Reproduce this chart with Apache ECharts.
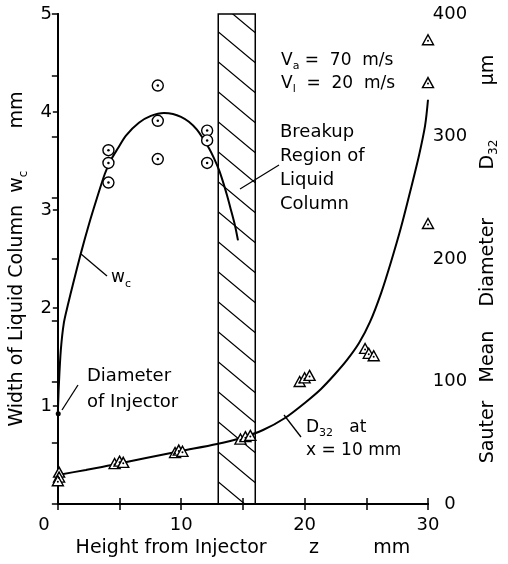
<!DOCTYPE html>
<html>
<head>
<meta charset="utf-8">
<script src="https://cdn.jsdelivr.net/npm/echarts/dist/echarts.min.js"></script>
<style>
  html, body { margin: 0; padding: 0; background: #fff; }
  #main { width: 508px; height: 564px; }
</style>
</head>
<body>
<div id="main"></div>
<script>
// width of liquid column w_c (mm) vs height z (mm)
const wcPoints = [
  [4.1, 3.61], [4.1, 3.48], [4.1, 3.28],
  [8.1, 4.27], [8.1, 3.91], [8.1, 3.52],
  [12.1, 3.81], [12.1, 3.71], [12.1, 3.48]
]
const wcCurve = [
  [0, 0.93], [0.08, 1.21], [0.24, 1.57], [0.49, 1.85], [0.81, 2.03], [1.22, 2.24],
  [1.87, 2.56], [2.51, 2.85], [3.24, 3.15], [3.81, 3.37], [4.3, 3.51], [4.87, 3.63],
  [5.52, 3.76], [6.57, 3.89], [7.54, 3.96], [8.6, 3.99], [9.33, 3.98], [9.98, 3.95],
  [10.62, 3.9], [11.27, 3.82], [11.76, 3.73], [12.25, 3.63], [12.65, 3.53],
  [13.06, 3.41], [13.38, 3.29], [13.71, 3.15], [14.03, 3.0], [14.36, 2.84], [14.6, 2.69]
]
const injectorPoint = [[0.03, 0.92]]
// Sauter mean diameter D32 (um) at x = 10 mm
const d32Points = [
  [0.1, 26], [0.1, 22], [0.0, 19],
  [4.6, 33], [5.0, 35], [5.3, 34],
  [9.5, 42], [9.8, 44], [10.1, 43],
  [14.8, 53], [15.2, 55], [15.6, 56],
  [19.6, 100], [20.0, 103], [20.4, 105],
  [24.9, 127], [25.2, 123], [25.6, 121],
  [30, 379], [30, 344], [30, 229]
]
const d32Curve = [
  [0, 23.7], [2.27, 27.8], [4.38, 31.8], [7.14, 37.6], [9.98, 43.3], [12.9, 49.0],
  [14.84, 53.9], [16.63, 60.4], [18.41, 70.2], [20.11, 83.3], [21.33, 93.9],
  [22.47, 106.1], [23.44, 117.6], [24.41, 131.4], [25.3, 148.6], [26.2, 172.2],
  [27.0, 197.6], [27.82, 226.1], [28.63, 258.0], [29.28, 284.9], [29.76, 308.6], [30, 330]
]
const breakupRegion = [13, 16]
const xTicks = [0, 10, 20, 30]

const FONT = 'DejaVu Sans'

function hatchPattern() {
  const w = 36
  const h = 30
  const c = document.createElement('canvas')
  c.width = w
  c.height = h
  const g = c.getContext('2d')
  g.strokeStyle = '#000'
  g.lineWidth = 1.3
  g.beginPath()
  for (let k = -1; k <= 1; k++) {
    g.moveTo(k * w - 2, -2 * h / w)
    g.lineTo(k * w + w + 2, h + 2 * h / w)
  }
  g.stroke()
  return c
}

const chart = echarts.init(document.getElementById('main'))
const nameT = { fontFamily: FONT, fontSize: 19, color: '#000', lineHeight: 24 }
const nameS = { fontFamily: FONT, fontSize: 12, color: '#000', verticalAlign: 'bottom', lineHeight: 24 }
const txt = { fontFamily: FONT, fontSize: 17, color: '#000', lineHeight: 23 }
const sub = { fontFamily: FONT, fontSize: 11, color: '#000', verticalAlign: 'bottom', lineHeight: 23 }

const option = {
  backgroundColor: '#fff',
  animation: false,
  grid: { left: 57, right: 80, top: 14, bottom: 60 },
  xAxis: [{
    type: 'value',
    min: 0,
    max: 30,
    interval: 5,
    name: 'Height from Injector       z         mm',
    nameLocation: 'middle',
    nameGap: 34,
    nameTextStyle: { fontFamily: FONT, fontSize: 19, color: '#000' },
    axisLine: { lineStyle: { color: '#000', width: 2 } },
    axisTick: { inside: true, length: 6, lineStyle: { color: '#000', width: 1.5 } },
    axisLabel: {
      margin: 12,
      fontFamily: FONT,
      fontSize: 18,
      color: '#000',
      formatter: v => (v === 0 ? '{o|0}' : (xTicks.indexOf(v) >= 0 ? String(v) : '')),
      rich: { o: { fontFamily: FONT, fontSize: 18, color: '#000', padding: [0, 28, 0, 0] } }
    },
    splitLine: { show: false }
  }, {
    type: 'value',
    position: 'top',
    min: 0,
    max: 30,
    interval: 5,
    axisLine: { lineStyle: { color: '#000', width: 2 } },
    axisTick: { inside: true, length: 6, lineStyle: { color: '#000', width: 1.5 } },
    axisLabel: { show: false },
    splitLine: { show: false }
  }],
  yAxis: [{
    type: 'value',
    min: 0,
    max: 5,
    interval: 1,
    name: '{t|Width of Liquid Column  w}{s|c}{t|       mm}',
    nameLocation: 'middle',
    nameRotate: 90,
    nameGap: 21,
    nameTextStyle: { rich: { t: nameT, s: nameS } },
    axisLine: { lineStyle: { color: '#000', width: 2 } },
    axisTick: { length: 5, lineStyle: { color: '#000', width: 1.5 } },
    axisLabel: {
      margin: 6,
      fontFamily: FONT,
      fontSize: 18,
      color: '#000',
      formatter: v => (v === 0 ? '' : String(v))
    },
    splitLine: { show: false }
  }, {
    type: 'value',
    position: 'right',
    min: 0,
    max: 400,
    interval: 50,
    name: '{t|Sauter   Mean    Diameter        D}{s|32}{t|         µm}',
    nameLocation: 'middle',
    nameRotate: 90,
    nameGap: 45,
    nameTextStyle: { rich: { t: nameT, s: nameS } },
    axisLine: { lineStyle: { color: '#000', width: 2 } },
    axisTick: { inside: true, length: 6, lineStyle: { color: '#000', width: 1.5 } },
    axisLabel: {
      margin: 22,
      align: 'center',
      fontFamily: FONT,
      fontSize: 18,
      color: '#000',
      formatter: v => (v % 100 === 0 ? String(v) : '')
    },
    splitLine: { show: false }
  }],
  series: [
    { // breakup region of liquid column
      type: 'line',
      data: [],
      silent: true,
      markArea: {
        silent: true,
        itemStyle: {
          color: { image: hatchPattern(), repeat: 'repeat' },
          opacity: 1,
          borderColor: '#000',
          borderWidth: 1.5
        },
        data: [[{ xAxis: breakupRegion[0] }, { xAxis: breakupRegion[1] }]]
      }
    },
    {
      name: 'wc curve',
      type: 'line',
      yAxisIndex: 0,
      data: wcCurve,
      smooth: 0.3,
      symbol: 'none',
      lineStyle: { color: '#000', width: 2 },
      z: 3
    },
    {
      name: 'D32 curve',
      type: 'line',
      yAxisIndex: 1,
      data: d32Curve,
      smooth: 0.3,
      symbol: 'none',
      lineStyle: { color: '#000', width: 2 },
      z: 3
    },
    {
      name: 'wc',
      type: 'scatter',
      yAxisIndex: 0,
      data: wcPoints,
      symbol: 'circle',
      symbolSize: 11,
      itemStyle: { color: '#fff', borderColor: '#000', borderWidth: 1.4, opacity: 1 },
      z: 4
    },
    {
      type: 'scatter',
      yAxisIndex: 0,
      data: wcPoints,
      symbol: 'circle',
      symbolSize: 2.5,
      itemStyle: { color: '#000', opacity: 1 },
      z: 5
    },
    {
      name: 'D32',
      type: 'scatter',
      yAxisIndex: 1,
      data: d32Points,
      symbol: 'triangle',
      symbolSize: [11, 10],
      clip: false,
      itemStyle: { color: '#fff', borderColor: '#000', borderWidth: 1.4, opacity: 1 },
      z: 4
    },
    {
      type: 'scatter',
      yAxisIndex: 1,
      data: d32Points,
      symbol: 'circle',
      symbolSize: 2,
      symbolOffset: [0, 1],
      clip: false,
      itemStyle: { color: '#000', opacity: 1 },
      z: 5
    },
    {
      name: 'injector',
      type: 'scatter',
      yAxisIndex: 0,
      data: injectorPoint,
      symbol: 'circle',
      symbolSize: 5,
      clip: false,
      itemStyle: { color: '#000', opacity: 1 },
      z: 5
    }
  ],
  graphic: [
    // w_c label
    { type: 'line', shape: { x1: 81, y1: 254, x2: 107, y2: 276 }, style: { stroke: '#000', lineWidth: 1.3 } },
    { type: 'text', x: 111, y: 278, style: { text: '{t|w}{s|c}', rich: { t: txt, s: sub }, verticalAlign: 'middle' } },
    // diameter of injector
    { type: 'line', shape: { x1: 62, y1: 410, x2: 78, y2: 385 }, style: { stroke: '#000', lineWidth: 1.3 } },
    { type: 'text', x: 87, y: 363, style: { text: 'Diameter\nof Injector', font: '18px ' + FONT, fill: '#000', lineHeight: 26 } },
    // velocities
    { type: 'text', x: 281, y: 49, style: { text: '{t|V}{s|a}{t| =  70  m/s}\n{t|V}{s|l}{t|  =  20  m/s}', rich: { t: txt, s: sub } } },
    // breakup region
    { type: 'line', shape: { x1: 240, y1: 189, x2: 279, y2: 165 }, style: { stroke: '#000', lineWidth: 1.3 } },
    { type: 'text', x: 280, y: 120, style: { text: 'Breakup\nRegion of\nLiquid\nColumn', font: '18px ' + FONT, fill: '#000', lineHeight: 24 } },
    // D32 at x = 10 mm
    { type: 'line', shape: { x1: 284, y1: 415, x2: 301, y2: 437 }, style: { stroke: '#000', lineWidth: 1.3 } },
    { type: 'text', x: 306, y: 416, style: { text: '{t|D}{s|32}{t|   at}\n{t|x = 10 mm}', rich: { t: txt, s: sub } } }
  ]
}

chart.setOption(option)
</script>
</body>
</html>
